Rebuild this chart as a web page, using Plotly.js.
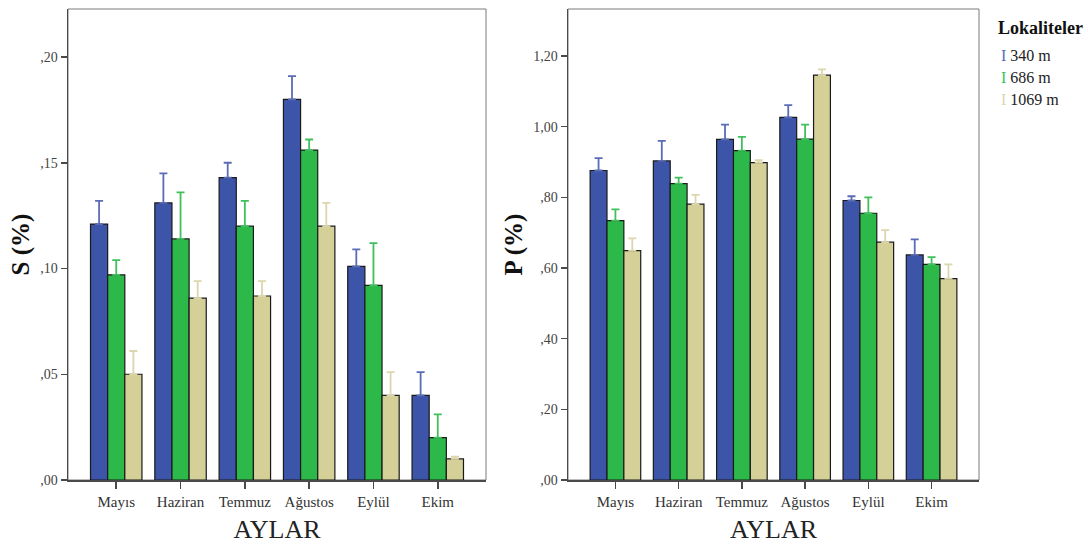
<!DOCTYPE html>
<html>
<head>
<meta charset="utf-8">
<script src="https://cdn.plot.ly/plotly-3.0.1.min.js"></script>
<style>
  html, body { margin: 0; padding: 0; background: #ffffff; }
  #chart { width: 1088px; height: 548px; }
</style>
</head>
<body>
<div id="chart"></div>
<script>
// Months on the category axis
const months = ["Mayıs", "Haziran", "Temmuz", "Ağustos", "Eylül", "Ekim"];

// Locality names (legend entries)
const localities = ["340 m", "686 m", "1069 m"];

// S (%) means and upper error for each locality
const s340 = [0.121, 0.131, 0.143, 0.180, 0.101, 0.040];
const s340Err = [0.011, 0.014, 0.007, 0.011, 0.008, 0.011];
const s686 = [0.097, 0.114, 0.120, 0.156, 0.092, 0.020];
const s686Err = [0.007, 0.022, 0.012, 0.005, 0.020, 0.011];
const s1069 = [0.050, 0.086, 0.087, 0.120, 0.040, 0.010];
const s1069Err = [0.011, 0.008, 0.007, 0.011, 0.011, 0.001];

// P (%) means and upper error for each locality
const p340 = [0.876, 0.903, 0.964, 1.026, 0.791, 0.637];
const p340Err = [0.035, 0.057, 0.042, 0.035, 0.012, 0.044];
const p686 = [0.734, 0.839, 0.932, 0.965, 0.755, 0.610];
const p686Err = [0.032, 0.017, 0.039, 0.041, 0.045, 0.021];
const p1069 = [0.649, 0.781, 0.898, 1.146, 0.673, 0.570];
const p1069Err = [0.035, 0.026, 0.007, 0.016, 0.034, 0.040];

// Y tick values and their comma-decimal labels
const sTickVals = [0, 0.05, 0.10, 0.15, 0.20];
const sTickText = [",00", ",05", ",10", ",15", ",20"];
const pTickVals = [0, 0.2, 0.4, 0.6, 0.8, 1.0, 1.2];
const pTickText = [",00", ",20", ",40", ",60", ",80", "1,00", "1,20"];

const barColors = ["#3d55a9", "#2db84a", "#d5cf98"];
const errColors = ["#5b6cb6", "#40c05c", "#dcd6ad"];

const serif = "Liberation Serif";

function series(values, errs, idx, xa, ya) {
  return {
    type: "bar",
    name: localities[idx],
    x: months,
    y: values,
    xaxis: xa,
    yaxis: ya,
    showlegend: false,
    marker: { color: barColors[idx], line: { color: "#1a1a1a", width: 1.2 } },
    error_y: {
      type: "data",
      symmetric: false,
      array: errs,
      arrayminus: values.map(() => 0),
      color: errColors[idx],
      thickness: 1.8,
      width: 4
    },
    hoverinfo: "x+y+name"
  };
}

const data = [
  series(s340, s340Err, 0, "x", "y"),
  series(s686, s686Err, 1, "x", "y"),
  series(s1069, s1069Err, 2, "x", "y"),
  series(p340, p340Err, 0, "x2", "y2"),
  series(p686, p686Err, 1, "x2", "y2"),
  series(p1069, p1069Err, 2, "x2", "y2")
];

function xAxis(domain) {
  return {
    domain: domain,
    type: "category",
    range: [-0.75, 5.75],
    showline: true,
    linecolor: "#4a4a4a",
    linewidth: 1.5,
    ticks: "outside",
    ticklen: 7,
    tickwidth: 1.5,
    tickcolor: "#4a4a4a",
    showgrid: false,
    zeroline: false,
    fixedrange: true,
    tickfont: { family: serif, size: 15, color: "#333" },
    title: { text: "AYLAR", font: { family: serif, size: 26, color: "#222" }, standoff: 11 }
  };
}

function yAxis(domain, range, vals, text, label, anchor) {
  return {
    domain: domain,
    anchor: anchor,
    range: range,
    tickvals: vals,
    ticktext: text,
    showline: true,
    linecolor: "#4a4a4a",
    linewidth: 1.5,
    ticks: "outside",
    ticklen: 6,
    tickwidth: 1.5,
    tickcolor: "#4a4a4a",
    showgrid: false,
    zeroline: false,
    fixedrange: true,
    tickfont: { family: serif, size: 14, color: "#444" },
    title: { text: label, font: { family: serif, size: 25, color: "#111", weight: "bold" }, standoff: 3 }
  };
}

const yDom = [68 / 548, 539 / 548];

const layout = {
  width: 1088,
  height: 548,
  margin: { l: 0, r: 0, t: 0, b: 0 },
  font: { family: serif },
  paper_bgcolor: "#ffffff",
  plot_bgcolor: "#ffffff",
  barmode: "group",
  bargap: 0.2,
  bargroupgap: 0,
  showlegend: false,
  xaxis: xAxis([68 / 1088, 486 / 1088]),
  yaxis: yAxis(yDom, [0, 0.2227], sTickVals, sTickText, "S (%)", "x"),
  xaxis2: Object.assign(xAxis([568 / 1088, 979 / 1088]), { anchor: "y2" }),
  yaxis2: yAxis(yDom, [0, 1.333], pTickVals, pTickText, "P (%)", "x2"),
  shapes: [
    { type: "rect", xref: "x domain", yref: "y domain", x0: 0, x1: 1, y0: 0, y1: 1,
      line: { color: "#7a7a7a", width: 1 }, layer: "below" },
    { type: "rect", xref: "x2 domain", yref: "y2 domain", x0: 0, x1: 1, y0: 0, y1: 1,
      line: { color: "#7a7a7a", width: 1 }, layer: "below" }
  ],
  annotations: [
    { xref: "paper", yref: "paper", x: 1040 / 1088, y: 1 - 28 / 548, xanchor: "center", yanchor: "middle",
      showarrow: false, text: "<b>Lokaliteler</b>", font: { family: serif, size: 18, color: "#111" } }
  ].concat(localities.map((name, i) => ({
    xref: "paper", yref: "paper", x: 999 / 1088, y: 1 - (55 + i * 22) / 548,
    xanchor: "left", yanchor: "middle", showarrow: false,
    text: '<span style="color:' + errColors[i] + '">I</span> ' + name,
    font: { family: serif, size: 16, color: "#222" }
  })))
};

Plotly.newPlot("chart", data, layout, { displayModeBar: false, staticPlot: true });
</script>
</body>
</html>
